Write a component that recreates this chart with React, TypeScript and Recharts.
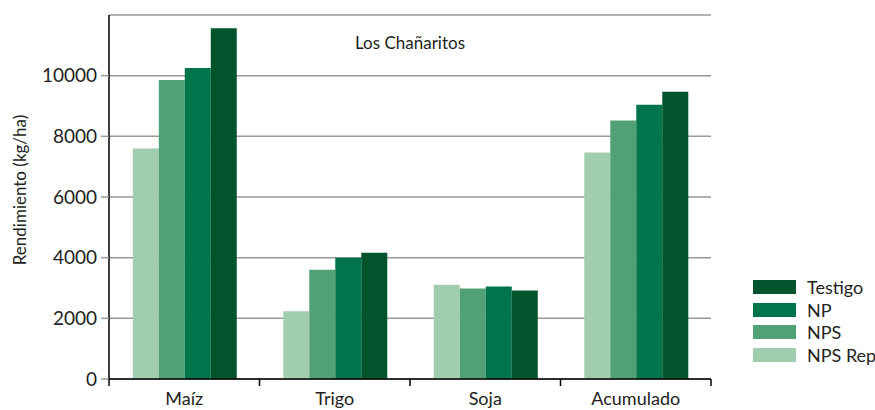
import React from 'react';
import { BarChart, Bar, XAxis, YAxis, CartesianGrid } from 'recharts';

const categories = ['Maíz', 'Trigo', 'Soja', 'Acumulado'];
const npsRep = [7600, 2230, 3110, 7470];
const nps = [9860, 3600, 2980, 8520];
const np = [10250, 4000, 3050, 9040];
const testigo = [11560, 4160, 2920, 9470];
const seriesNames = ['NPS Rep', 'NPS', 'NP', 'Testigo'];
const seriesColors = ['#a0cdae', '#52a176', '#00744a', '#01542b'];
const yTicks = [0, 2000, 4000, 6000, 8000, 10000];
const title = 'Los Chañaritos';
const yLabel = 'Rendimiento (kg/ha)';

const seriesValues = [npsRep, nps, np, testigo];
const data = categories.map((c, i) => {
  const row: Record<string, string | number> = { cat: c };
  seriesNames.forEach((s, k) => {
    row[s] = seriesValues[k][i];
  });
  return row;
});

const W = 875;
const H = 410;
const M = { top: 15, right: 164, bottom: 0, left: 0 };
const Y_W = 109;
const X_H = 31;
const PLOT_W = W - M.right - Y_W;
const BAND = PLOT_W / categories.length;
const FONT = "Lato, 'Open Sans', sans-serif";
const TXT = '#231f20';

const CatTick = (props: any) => {
  const { x, payload, index } = props;
  const y0 = H - X_H;
  return (
    <g>
      <line x1={x - BAND / 2} x2={x - BAND / 2} y1={y0} y2={y0 + 7} stroke="#000" strokeWidth={1.5} />
      {index === categories.length - 1 && (
        <line x1={x + BAND / 2} x2={x + BAND / 2} y1={y0} y2={y0 + 7} stroke="#000" strokeWidth={1.5} />
      )}
      <text x={x} y={y0 + 26} textAnchor="middle" fontSize={18} fill={TXT} fontFamily={FONT}>
        {payload.value}
      </text>
    </g>
  );
};

const YLabel = (props: any) => {
  const vb = props.viewBox || { x: 0, y: M.top, width: Y_W, height: H - M.top - X_H };
  const cx = 19;
  const cy = vb.y + vb.height / 2 - 7;
  return (
    <text
      x={cx}
      y={cy}
      transform={`rotate(-90 ${cx} ${cy})`}
      textAnchor="middle"
      dominantBaseline="central"
      fontSize={17}
      fill={TXT}
      fontFamily={FONT}
    >
      {yLabel}
    </text>
  );
};

export default function App() {
  return (
    <div style={{ position: 'absolute', left: 0, top: 0, width: W, height: H, background: '#fff', fontFamily: FONT }}>
      <BarChart width={W} height={H} data={data} margin={M} barCategoryGap="15.8%" barGap={0}>
        <CartesianGrid horizontal vertical={false} stroke="#999" strokeWidth={1.5} />
        <XAxis
          dataKey="cat"
          height={X_H}
          tickLine={false}
          tick={<CatTick />}
          axisLine={{ stroke: '#000', strokeWidth: 1.5 }}
          interval={0}
        />
        <YAxis
          width={Y_W}
          domain={[0, 12000]}
          ticks={yTicks}
          interval={0}
          tickSize={8}
          tickMargin={4}
          tickLine={{ stroke: '#999', strokeWidth: 1.5 }}
          axisLine={{ stroke: '#000', strokeWidth: 1.5 }}
          tick={{ fontSize: 19, fill: TXT, fontFamily: FONT }}
          label={{ content: (p: any) => <YLabel {...p} /> }}
        />
        {seriesNames.map((s, k) => (
          <Bar key={s} dataKey={s} fill={seriesColors[k]} isAnimationActive={false} />
        ))}
      </BarChart>
      <div
        style={{
          position: 'absolute',
          left: 0,
          width: Y_W * 2 + PLOT_W,
          top: 32,
          textAlign: 'center',
          fontSize: 17,
          color: TXT,
        }}
      >
        {title}
      </div>
      <div style={{ position: 'absolute', left: 753, top: 276, width: 122 }}>
        {seriesNames
          .map((s, k) => ({ s, c: seriesColors[k] }))
          .reverse()
          .map(({ s, c }) => (
            <div key={s} style={{ display: 'flex', alignItems: 'center', height: 22.6, whiteSpace: 'nowrap' }}>
              <div style={{ width: 43, height: 14, background: c, marginRight: 11, flexShrink: 0 }} />
              <span style={{ fontSize: 18, color: TXT, lineHeight: '18px' }}>{s}</span>
            </div>
          ))}
      </div>
    </div>
  );
}
